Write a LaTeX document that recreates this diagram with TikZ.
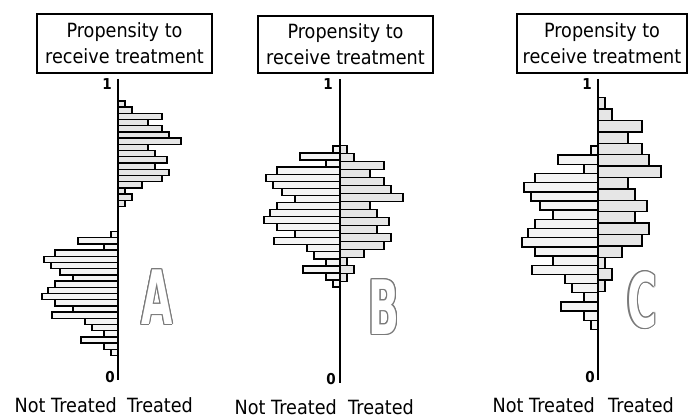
\documentclass[tikz,border=0pt]{standalone}
\usepackage{fontspec}
\setmainfont{DejaVu Sans}[FakeStretch=0.9]
\newfontfamily\letterfont{DejaVu Sans Bold}[FakeStretch=0.9]
\definecolor{treatgray}{HTML}{E6E6E6}
\definecolor{ctrlgray}{HTML}{F4F4F4}
\definecolor{lettergray}{HTML}{7A7A7A}
\def\trlist{7,14,44,30,44,51,63,30,37,49,37,51,44,24,7,14,7}
\def\ctlist{7,40,14,63,74,67,58,45,63,70,76,63,45,66,33,26,14,37,14,7}
% #1 axis x, #2 treated top, #3 treated bar height, #4 control top, #5 control bar height
\newcommand\drawhists[5]{%
  \foreach \l [count=\i from 0] in \trlist {\draw[trbar] (#1,#2+\i*#3) rectangle ++(\l,#3);}
  \foreach \l [count=\i from 0] in \ctlist {\draw[ctbar] (#1,#4+\i*#5) rectangle ++(-\l,#5);}
}
\newcommand\outlineletter[3]{%
  \foreach \a in {0,30,...,330} {\node[lettergr, shift={(\a:1.3)}] at (#1) {\scalebox{0.6}[1]{#2}};}
  \node[letterwh] (#3) at (#1) {\scalebox{0.6}[1]{#2}};
}
\begin{document}
\begin{tikzpicture}[x=1pt,y=-1pt,
  titlebox/.style={draw, line width=1.4pt, minimum height=59pt, inner sep=0pt, align=center,
    font=\fontsize{19.6}{26}\selectfont},
  axisline/.style={line width=1.7pt},
  trbar/.style={draw, line width=1.4pt, fill=treatgray},
  ctbar/.style={draw, line width=1.4pt, fill=ctrlgray},
  digitlbl/.style={font=\bfseries\fontsize{15}{15}\selectfont, inner sep=0pt},
  grplbl/.style={font=\fontsize{19.6}{22}\selectfont, inner sep=0pt},
  lettergr/.style={font=\letterfont\fontsize{75}{75}\selectfont, text=lettergray, inner sep=0pt},
  letterwh/.style={font=\letterfont\fontsize{75}{75}\selectfont, text=white, inner sep=0pt},
]
\useasboundingbox[fill=white] (0,0) rectangle (688,417);

% ---------- Panel A ----------
\node[titlebox, minimum width=175pt] (tA) at (124.5,43.5) {Propensity to\\receive treatment};
\drawhists{118}{101}{6.2}{231.5}{6.2}
\coordinate (Atop) at (118,79);
\coordinate (Abot) at (118,380);
\draw[axisline] (Atop) -- (Abot);
\node[digitlbl] (oneA) at (107,84) {1};
\node[digitlbl] (zeroA) at (110,377) {0};
\node[grplbl, anchor=east] (ntA) at (117,405) {Not Treated};
\node[grplbl, anchor=west] (trA) at (127,405) {Treated};
\outlineletter{157,297}{A}{letA}

% ---------- Panel B ----------
\node[titlebox, minimum width=175pt, minimum height=57pt] (tB) at (345.5,44.5) {Propensity to\\receive treatment};
\drawhists{340}{145.7}{8.0}{146}{7.05}
\coordinate (Btop) at (340,79);
\coordinate (Bbot) at (340,383);
\draw[axisline] (Btop) -- (Bbot);
\node[digitlbl] (oneB) at (328,84) {1};
\node[digitlbl] (zeroB) at (331,379) {0};
\node[grplbl, anchor=east] (ntB) at (337,407) {Not Treated};
\node[grplbl, anchor=west] (trB) at (348,407) {Treated};
\outlineletter{384,307}{B}{letB}

% ---------- Panel C ----------
\node[titlebox, minimum width=170pt] (tC) at (602,43.5) {Propensity to\\receive treatment};
\drawhists{598}{97.7}{11.4}{146}{9.17}
\coordinate (Ctop) at (598,79);
\coordinate (Cbot) at (598,380);
\draw[axisline] (Ctop) -- (Cbot);
\node[digitlbl] (oneC) at (587,84) {1};
\node[digitlbl] (zeroC) at (590,377) {0};
\node[grplbl, anchor=east] (ntC) at (595,405) {Not Treated};
\node[grplbl, anchor=west] (trC) at (608,405) {Treated};
\outlineletter{642,300}{C}{letC}
\end{tikzpicture}
\end{document}
